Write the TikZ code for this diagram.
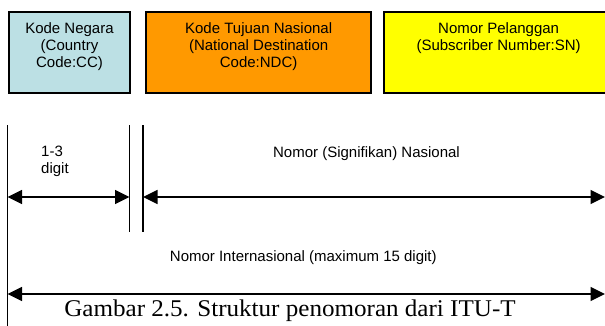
\documentclass[tikz,border=0pt]{standalone}
\usepackage{fontspec}
\setmainfont{Liberation Sans}
\newfontfamily\capfont{Liberation Serif}
\usetikzlibrary{arrows.meta}
\definecolor{ccblue}{RGB}{188,224,228}
\definecolor{ndcorange}{RGB}{255,153,0}
\definecolor{snyellow}{RGB}{255,255,0}
\begin{document}
\begin{tikzpicture}[x=1pt,y=-1pt,
  fieldbox/.style={draw=black,line width=2pt,inner sep=0pt,anchor=north west},
  lbl/.style={font=\fontsize{15}{17}\selectfont,inner sep=0pt},
  tickline/.style={line width=1.5pt},
  dimarrow/.style={line width=1.5pt,{Triangle[length=14.5pt,width=14pt]}-{Triangle[length=14.5pt,width=14pt]}}
]
\clip (0,0) rectangle (605,325);
\fill[white] (0,0) rectangle (605,325);

% field boxes
\node[fieldbox,fill=ccblue,minimum width=121.6pt,minimum height=81.3pt] (cc) at (7.7,11) {};
\node[fieldbox,fill=ndcorange,minimum width=225.3pt,minimum height=81.3pt] (ndc) at (145,11) {};
\node[fieldbox,fill=snyellow,minimum width=228.7pt,minimum height=81.3pt] (sn) at (383.3,11) {};

\node[lbl,align=center,anchor=north] (cct) at ([yshift=-11.3pt]cc.north) {Kode Negara\\(Country\\Code:CC)};
\node[lbl,align=center,anchor=north] (ndct) at ([yshift=-11.3pt]ndc.north) {Kode Tujuan Nasional\\(National Destination\\Code:NDC)};
\node[lbl,align=center,anchor=north] (snt) at ([yshift=-11.3pt]sn.north) {Nomor Pelanggan\\(Subscriber Number:SN)};

% vertical lines
\coordinate (vL0) at (7.5,125);
\coordinate (vL1) at (7.5,326);
\coordinate (vA0) at (129.5,125);
\coordinate (vA1) at (129.5,232);
\coordinate (vB0) at (143,125);
\coordinate (vB1) at (143,232);
\draw[tickline] (vL0) -- (vL1);
\draw[tickline] (vA0) -- (vA1);
\draw[tickline] (vB0) -- (vB1);

% dimension arrows
\coordinate (d1a) at (7.5,197);
\coordinate (d1b) at (129.5,197);
\coordinate (d2a) at (143,197);
\coordinate (d2b) at (605,197);
\coordinate (d3a) at (7.5,294);
\coordinate (d3b) at (605,294);
\draw[dimarrow] (d1a) -- (d1b);
\draw[dimarrow] (d2a) -- (d2b);
\draw[dimarrow] (d3a) -- (d3b);

% labels
\node[lbl,align=left,anchor=north west] (dig) at (41,146.3) {1-3\\digit};
\node[lbl,anchor=base] (nsn) at (366.5,157) {Nomor (Signifikan) Nasional};
\node[lbl,anchor=base] (intl) at (303.3,261.7) {Nomor Internasional (maximum 15 digit)};
\node[inner sep=0pt,anchor=base] (cap) at (290,316) {\capfont\fontsize{24}{28}\selectfont\scalebox{1.045}[1]{Gambar 2.5. Struktur penomoran dari ITU-T}};
\end{tikzpicture}
\end{document}
